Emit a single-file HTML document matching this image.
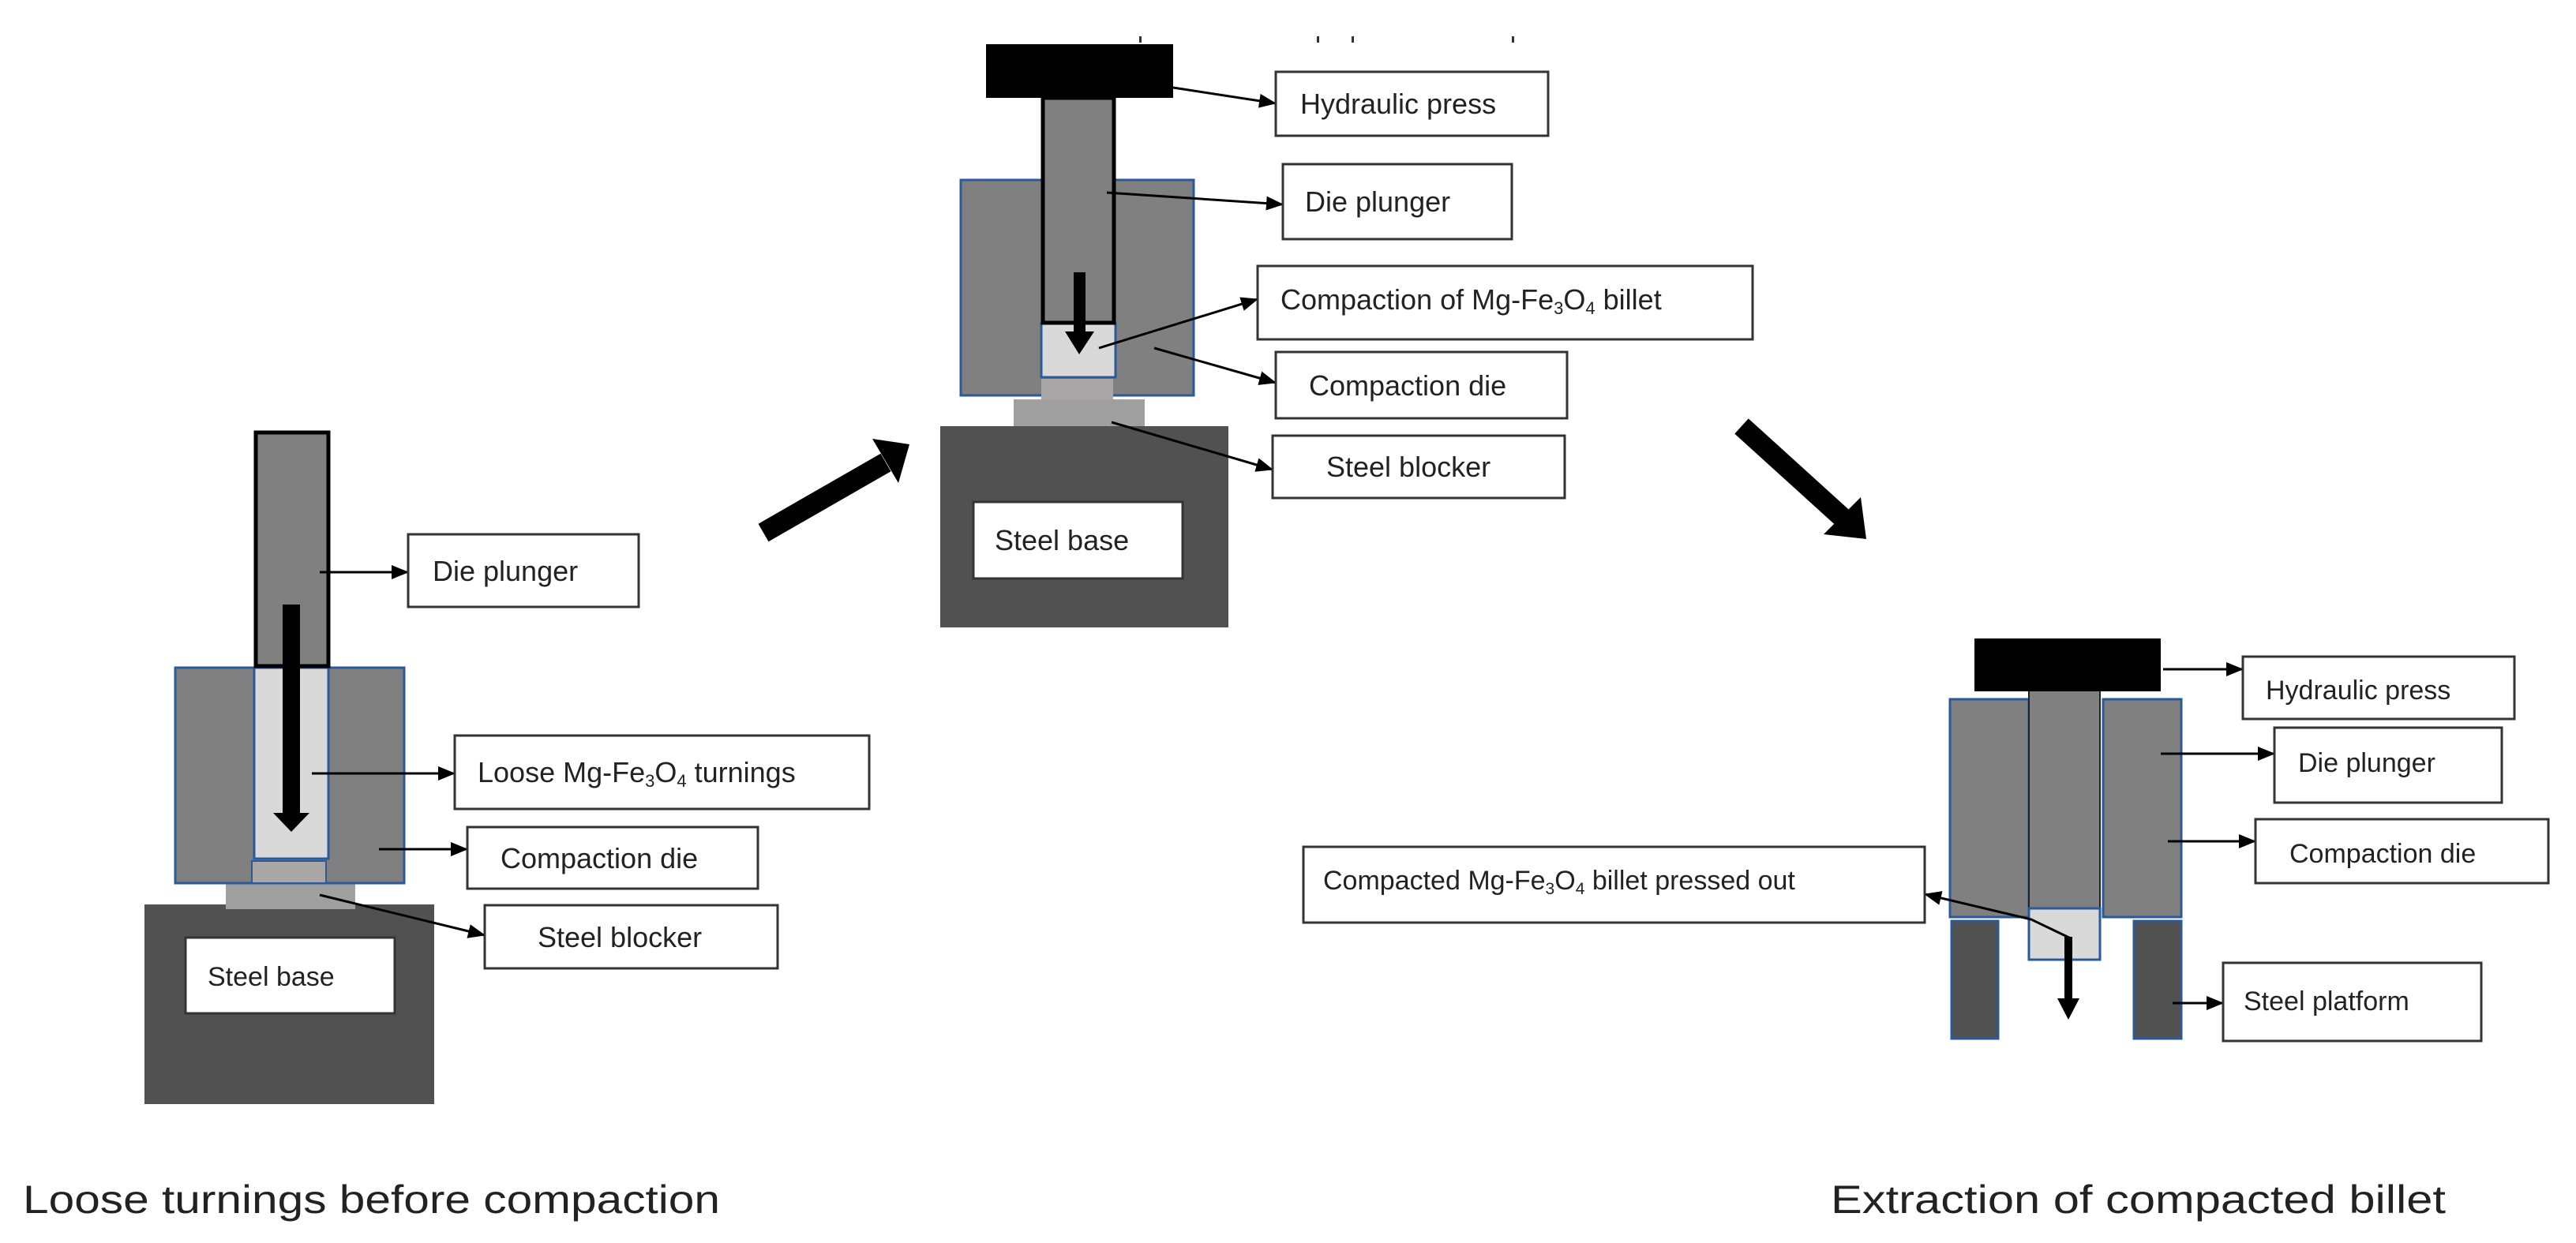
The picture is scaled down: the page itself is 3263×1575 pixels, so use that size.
<!DOCTYPE html>
<html><head><meta charset="utf-8"><style>
html,body{margin:0;padding:0;background:#fff;}
svg{display:block;}
text{font-family:"Liberation Sans",sans-serif;fill:#222;}
</style></head><body>
<svg width="3263" height="1575" viewBox="0 0 3263 1575" xmlns="http://www.w3.org/2000/svg">
<defs>
<marker id="ah" markerWidth="22" markerHeight="18" refX="21" refY="9" orient="auto" markerUnits="userSpaceOnUse" viewBox="0 0 22 18">
<path d="M0,0 L22,9 L0,18 z" fill="#000"/></marker>
</defs>

<!-- ===== Assembly 1 ===== -->
<rect x="183" y="1146" width="367" height="253" fill="#515151"/>
<rect x="286" y="1119" width="164" height="33" fill="#a0a0a0"/>
<rect x="222" y="846" width="290" height="273" fill="#808080" stroke="#2a5a9a" stroke-width="3"/>
<rect x="322" y="846" width="94" height="242" fill="#d9d9d9" stroke="#2a5a9a" stroke-width="3"/>
<rect x="319" y="1091" width="94" height="28" fill="#aaa6a6" stroke="#2a5a9a" stroke-width="2"/>
<rect x="324" y="548" width="92" height="296" fill="#808080" stroke="#000" stroke-width="5"/>
<rect x="358" y="766" width="22" height="268" fill="#000"/>
<path d="M346,1030 L392,1030 L369,1054 z" fill="#000"/>
<rect x="235" y="1188" width="265" height="96" fill="#fff" stroke="#333" stroke-width="3"/>
<text x="263" y="1249" font-size="34">Steel base</text>

<g stroke="#000" stroke-width="3" fill="none" marker-end="url(#ah)">
<line x1="405" y1="725" x2="517" y2="725"/>
<line x1="395" y1="980" x2="576" y2="980"/>
<line x1="480" y1="1076" x2="592" y2="1076"/>
<line x1="405" y1="1134" x2="614" y2="1185"/>
</g>
<rect x="517" y="677" width="292" height="92" fill="#fff" stroke="#333" stroke-width="3"/>
<text x="548" y="736" font-size="36">Die plunger</text>
<rect x="576" y="932" width="525" height="93" fill="#fff" stroke="#333" stroke-width="3"/>
<text x="605" y="991" font-size="36">Loose Mg-Fe<tspan font-size="22" dy="6">3</tspan><tspan dy="-6">O</tspan><tspan font-size="22" dy="6">4</tspan><tspan dy="-6"> turnings</tspan></text>
<rect x="592" y="1048" width="368" height="78" fill="#fff" stroke="#333" stroke-width="3"/>
<text x="634" y="1100" font-size="36">Compaction die</text>
<rect x="614" y="1147" width="371" height="80" fill="#fff" stroke="#333" stroke-width="3"/>
<text x="681" y="1200" font-size="36">Steel blocker</text>

<!-- big arrow 1 -->
<line x1="967" y1="675" x2="1122" y2="586" stroke="#000" stroke-width="26"/>
<path d="M1105,556 L1152,563 L1138,612 z" fill="#000"/>

<!-- ===== Assembly 2 ===== -->
<rect x="1191" y="540" width="365" height="255" fill="#515151"/>
<rect x="1284" y="506" width="166" height="34" fill="#a0a0a0"/>
<rect x="1217" y="228" width="295" height="273" fill="#808080" stroke="#2a5a9a" stroke-width="3"/>
<rect x="1319" y="410" width="94" height="68" fill="#d9d9d9" stroke="#2a5a9a" stroke-width="3"/>
<rect x="1319" y="480" width="91" height="26" fill="#aaa6a6"/>
<rect x="1321" y="124" width="90" height="285" fill="#808080" stroke="#000" stroke-width="5"/>
<rect x="1249" y="56" width="237" height="68" fill="#000"/>
<rect x="1360" y="345" width="15" height="78" fill="#000"/>
<path d="M1349,420 L1386,420 L1367,449 z" fill="#000"/>
<rect x="1233" y="636" width="265" height="97" fill="#fff" stroke="#333" stroke-width="3"/>
<text x="1260" y="697" font-size="36">Steel base</text>
<g fill="#333"><rect x="1443" y="46" width="3" height="8"/><rect x="1668" y="46" width="3" height="8"/><rect x="1712" y="46" width="3" height="8"/><rect x="1915" y="46" width="3" height="8"/></g>

<g stroke="#000" stroke-width="3" fill="none" marker-end="url(#ah)">
<line x1="1486" y1="111" x2="1616" y2="131"/>
<line x1="1402" y1="244" x2="1625" y2="259"/>
<line x1="1392" y1="441" x2="1593" y2="379"/>
<line x1="1462" y1="441" x2="1616" y2="485"/>
<line x1="1408" y1="535" x2="1612" y2="595"/>
</g>
<rect x="1616" y="91" width="345" height="81" fill="#fff" stroke="#333" stroke-width="3"/>
<text x="1647" y="144" font-size="36">Hydraulic press</text>
<rect x="1625" y="208" width="290" height="95" fill="#fff" stroke="#333" stroke-width="3"/>
<text x="1653" y="268" font-size="36">Die plunger</text>
<rect x="1593" y="337" width="627" height="93" fill="#fff" stroke="#333" stroke-width="3"/>
<text x="1622" y="392" font-size="36">Compaction of Mg-Fe<tspan font-size="22" dy="6">3</tspan><tspan dy="-6">O</tspan><tspan font-size="22" dy="6">4</tspan><tspan dy="-6"> billet</tspan></text>
<rect x="1616" y="446" width="369" height="84" fill="#fff" stroke="#333" stroke-width="3"/>
<text x="1658" y="501" font-size="36">Compaction die</text>
<rect x="1612" y="552" width="370" height="79" fill="#fff" stroke="#333" stroke-width="3"/>
<text x="1680" y="604" font-size="36">Steel blocker</text>

<!-- big arrow 2 -->
<line x1="2206" y1="540" x2="2335" y2="657" stroke="#000" stroke-width="26"/>
<path d="M2310,677 L2364,683 L2357,630 z" fill="#000"/>

<!-- ===== Assembly 3 ===== -->
<rect x="2470" y="886" width="100" height="276" fill="#808080" stroke="#2a5a9a" stroke-width="3"/>
<rect x="2664" y="886" width="99" height="276" fill="#808080" stroke="#2a5a9a" stroke-width="3"/>
<rect x="2570" y="876" width="90" height="275" fill="#808080"/>
<line x1="2570" y1="876" x2="2570" y2="1151" stroke="#222" stroke-width="2"/>
<line x1="2660" y1="876" x2="2660" y2="1151" stroke="#222" stroke-width="2"/>
<rect x="2570" y="1151" width="90" height="65" fill="#d9d9d9" stroke="#2a5a9a" stroke-width="3"/>
<rect x="2472" y="1167" width="59" height="149" fill="#515151" stroke="#2a5a9a" stroke-width="3"/>
<rect x="2703" y="1167" width="60" height="149" fill="#515151" stroke="#2a5a9a" stroke-width="3"/>
<rect x="2501" y="809" width="236" height="67" fill="#000"/>
<rect x="2615" y="1187" width="10" height="80" fill="#000"/>
<path d="M2606,1265 L2634,1265 L2620,1292 z" fill="#000"/>

<g stroke="#000" stroke-width="3" fill="none" marker-end="url(#ah)">
<line x1="2740" y1="848" x2="2841" y2="848"/>
<line x1="2737" y1="955" x2="2881" y2="955"/>
<line x1="2746" y1="1066" x2="2857" y2="1066"/>
<line x1="2752" y1="1271" x2="2816" y2="1271"/>
<polyline points="2623,1189 2573,1165 2438,1133"/>
</g>
<rect x="2841" y="832" width="344" height="79" fill="#fff" stroke="#333" stroke-width="3"/>
<text x="2870" y="886" font-size="34">Hydraulic press</text>
<rect x="2881" y="922" width="288" height="95" fill="#fff" stroke="#333" stroke-width="3"/>
<text x="2911" y="978" font-size="34">Die plunger</text>
<rect x="2857" y="1038" width="371" height="81" fill="#fff" stroke="#333" stroke-width="3"/>
<text x="2900" y="1093" font-size="34">Compaction die</text>
<rect x="2816" y="1220" width="327" height="99" fill="#fff" stroke="#333" stroke-width="3"/>
<text x="2842" y="1280" font-size="34">Steel platform</text>
<rect x="1651" y="1073" width="787" height="96" fill="#fff" stroke="#333" stroke-width="3"/>
<text x="1676" y="1127" font-size="34">Compacted Mg-Fe<tspan font-size="21" dy="6">3</tspan><tspan dy="-6">O</tspan><tspan font-size="21" dy="6">4</tspan><tspan dy="-6"> billet pressed out</tspan></text>

<!-- captions -->
<text x="29" y="1537" font-size="50" textLength="883" lengthAdjust="spacingAndGlyphs">Loose turnings before compaction</text>
<text x="2319" y="1537" font-size="50" textLength="779" lengthAdjust="spacingAndGlyphs">Extraction of compacted billet</text>
</svg>
</body></html>
